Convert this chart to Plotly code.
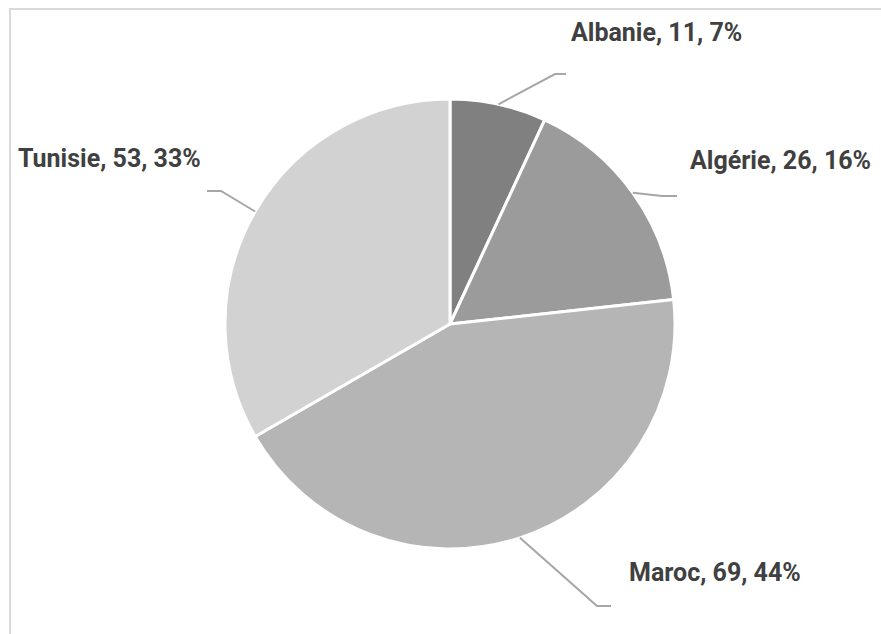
import math
import plotly.graph_objects as go

# ---- data ----
countries = ["Albanie", "Algérie", "Maroc", "Tunisie"]
values = [11, 26, 69, 53]
percents_shown = [7, 16, 44, 33]          # as printed on the chart
colors = ["#808080", "#9b9b9b", "#b5b5b5", "#d2d2d2"]

# ---- layout (pixels in the 881x634 window) ----
W, H = 881, 634
CX, CY, R = 450, 324, 225
# elbow point of each leader line, and end of its short horizontal tail
elbows = [(555, 74), (662, 196), (597, 606), (221, 191)]
tails = [(566, 74), (677, 196), (611, 606), (207, 191)]
# label anchor (x, y, xanchor)
label_pos = [(569, 32, "left"), (688, 160, "left"), (627, 572, "left"), (203, 158, "right")]


def px(x):
    return x / W


def py(y):
    return 1 - y / H


fig = go.Figure()
fig.add_trace(go.Pie(
    labels=countries,
    values=values,
    sort=False,
    direction="clockwise",
    rotation=0,
    marker=dict(colors=colors, line=dict(color="white", width=3)),
    textinfo="none",
    hoverinfo="label+value+percent",
    showlegend=False,
    domain=dict(x=[px(CX - R), px(CX + R)], y=[py(CY + R), py(CY - R)]),
))

# chart-area frame: only its top and left edges are visible in the window
frame = f"M {px(10)},{py(H)} L {px(10)},{py(9)} L {px(W)},{py(9)}"
shapes = [dict(type="path", xref="paper", yref="paper", path=frame,
               line=dict(color="#d9d9d9", width=2), layer="below")]
annotations = []
total = sum(values)
cum = 0
for i, v in enumerate(values):
    mid = (cum + v / 2) / total * 2 * math.pi
    cum += v
    sx = CX + R * math.sin(mid)
    sy = CY - R * math.cos(mid)
    ex, ey = elbows[i]
    tx, ty = tails[i]
    path = f"M {px(sx)},{py(sy)} L {px(ex)},{py(ey)} L {px(tx)},{py(ty)}"
    shapes.append(dict(type="path", xref="paper", yref="paper", path=path,
                       line=dict(color="#a6a6a6", width=2)))
    lx, ly, anc = label_pos[i]
    annotations.append(dict(
        x=px(lx), y=py(ly), xref="paper", yref="paper",
        xanchor=anc, yanchor="middle", showarrow=False,
        text=f"<b>{countries[i]}, {v}, {percents_shown[i]}%</b>",
        font=dict(family="Roboto, Arial, sans-serif", size=25, color="#404040"),
    ))

fig.update_layout(
    width=W, height=H,
    margin=dict(l=0, r=0, t=0, b=0),
    paper_bgcolor="white",
    plot_bgcolor="white",
    shapes=shapes,
    annotations=annotations,
)

fig.write_html(
    "out.html",
    config={"displayModeBar": False},
    post_script="document.body.style.margin='0';document.body.style.overflow='hidden';",
)
